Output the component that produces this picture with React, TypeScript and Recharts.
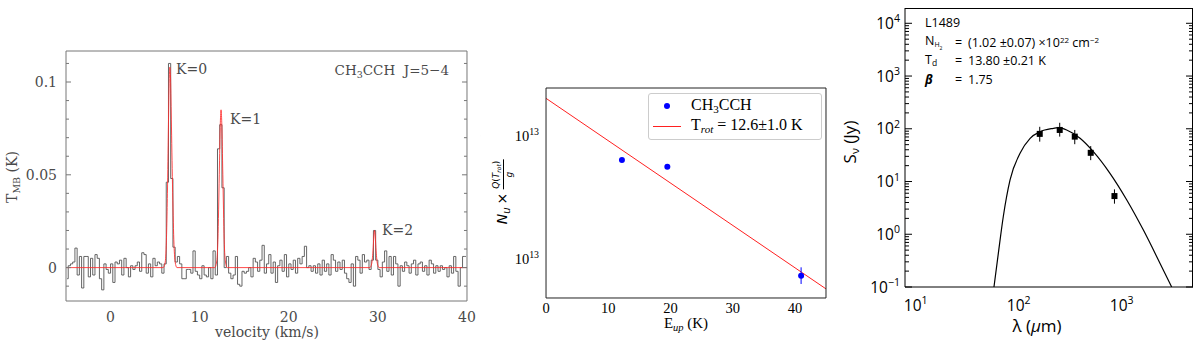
import React from "react";
import { ComposedChart, Line, Scatter, XAxis, YAxis, ErrorBar } from "recharts";

// ---------- left panel: CH3CCH J=5-4 spectrum ----------
const chanStart = -5; // km/s, left edge of first channel
const chanWidth = 0.25; // km/s
const tmb = [
  -0.006, 0.001, 0.002, 0.003, 0.0105, -0.004, 0.006, -0.011, 0.006, 0.006,
  -0.005, 0.005, -0.004, 0.007, 0.005, -0.006, -0.012, 0.002, -0.001, -0.003,
  0.002, -0.008, 0.003, 0.002, 0.004, -0.004, 0.005, 0.0, -0.005, 0.001,
  -0.001, 0.001, 0.003, -0.002, 0.008, 0.007, -0.003, 0.002, -0.005, 0.005,
  0.001, 0.003, 0.002, -0.003, 0.002, 0.046, 0.11, 0.048, 0.011, 0.003,
  0.006, 0.002, -0.006, -0.006, -0.001, -0.001, -0.003, 0.009, -0.002, -0.004,
  -0.006, 0.001, -0.004, -0.005, 0.0, -0.006, 0.009, -0.004, 0.064, 0.077,
  0.043, 0.0, 0.006, -0.003, -0.006, -0.004, 0.006, -0.009, -0.01, -0.002,
  -0.003, -0.002, 0.0, -0.005, 0.005, 0.003, -0.002, 0.004, 0.012, -0.003,
  0.002, 0.007, -0.003, 0.003, -0.008, 0.001, 0.004, -0.002, 0.007, -0.005,
  0.002, -0.001, 0.004, -0.003, 0.005, 0.002, 0.006, 0.0115, 0.0, 0.001,
  -0.002, 0.001, -0.003, 0.002, -0.004, 0.004, -0.002, 0.002, -0.004, 0.007,
  0.004, -0.002, 0.003, -0.001, 0.004, -0.003, -0.006, -0.008, 0.002, -0.01,
  0.006, 0.004, -0.003, 0.007, 0.003, 0.004, -0.001, 0.004, 0.02, 0.004,
  -0.001, -0.005, 0.003, 0.009, -0.002, 0.006, -0.004, 0.006, 0.002, -0.01,
  0.001, -0.002, 0.003, 0.001, -0.003, 0.002, 0.004, -0.004, 0.002, 0.003,
  -0.002, 0.001, -0.004, 0.004, 0.002, -0.003, 0.001, -0.002, 0.001, -0.001,
  0.0, -0.005, 0.001, -0.003, 0.006, -0.002, -0.01, 0.0, 0.006, 0.006,
];
// red fit
const fitVel = [
  -5, 5.9, 6.1, 6.25, 6.4, 6.5, 6.6, 6.65, 6.72, 6.82, 6.95, 7.1, 7.25, 7.45,
  11.7, 11.9, 12.05, 12.2, 12.32, 12.4, 12.48, 12.6, 12.75, 12.9, 13.1,
  29.1, 29.3, 29.45, 29.55, 29.62, 29.7, 29.8, 29.95, 30.15, 40,
];
const fitTmb = [
  0, 0, 0.002, 0.012, 0.045, 0.078, 0.104, 0.108, 0.104, 0.08, 0.045, 0.015, 0.003, 0,
  0, 0.003, 0.015, 0.05, 0.078, 0.085, 0.078, 0.05, 0.015, 0.003, 0,
  0, 0.002, 0.009, 0.017, 0.02, 0.017, 0.009, 0.002, 0, 0,
];
const velTicks = [0, 10, 20, 30, 40];
const velMinor = [-4, -2, 2, 4, 6, 8, 12, 14, 16, 18, 22, 24, 26, 28, 32, 34, 36, 38];
const tmbTicks = [0, 0.05, 0.1];
const tmbMinor = [-0.01, 0.01, 0.02, 0.03, 0.04, 0.06, 0.07, 0.08, 0.09, 0.11];

// ---------- middle panel: rotational diagram ----------
const eUp = [12.2, 19.5, 41.0];
const nColumn = [6.38e12, 5.64e12, 7.36e11];
const nErrLow = [0, 0, 1.06e11];
const nErrHigh = [0, 0, 1.24e11];
const fitEUp = [0, 45];
const fitN = [2.02e13, 5.75e11];
const eTicks = [0, 10, 20, 30, 40];
const nTicks = [1e12, 1e13];
const nMinor = [5e11, 6e11, 7e11, 8e11, 9e11, 2e12, 3e12, 4e12, 5e12, 6e12, 7e12, 8e12, 9e12, 2e13];

// ---------- right panel: SED ----------
const sedLambda = [160, 250, 350, 500, 850];
const sedFlux = [80, 95, 71, 35, 5.3];
const sedErrLow = [23, 24, 20, 9.6, 1.5];
const sedErrHigh = [29, 35, 24, 12, 1.8];
const greyLambda = [57.5, 63.4, 70.8, 82.4, 103, 129, 161, 217, 240, 292, 394, 530, 769, 1120, 1623, 2357, 3055];
const greyFlux = [0.1, 0.435, 2.15, 10.7, 34.3, 66, 88, 102, 105, 95, 66, 36.8, 14.3, 4.47, 1.2, 0.28, 0.1];
const lamTicks = [10, 100, 1000];
const lamMinor = [8, 9, 20, 30, 40, 50, 60, 70, 80, 90, 200, 300, 400, 500, 600, 700, 800, 900, 2000, 3000, 4000];
const fluxTicks = [0.1, 1, 10, 100, 1000, 10000];
const fluxMinor = [
  0.2, 0.3, 0.4, 0.5, 0.6, 0.7, 0.8, 0.9, 2, 3, 4, 5, 6, 7, 8, 9, 20, 30, 40, 50, 60, 70, 80, 90,
  200, 300, 400, 500, 600, 700, 800, 900, 2000, 3000, 4000, 5000, 6000, 7000, 8000, 9000,
];

const specData = tmb.map((t, i) => ({ x: chanStart + chanWidth * (i + 0.5), y: t }));
const fitData = fitVel.map((x, i) => ({ x, y: fitTmb[i] }));
const rotData = eUp.map((x, i) => ({ x, y: nColumn[i], err: [nErrLow[i], nErrHigh[i]] }));
const rotFit = fitEUp.map((x, i) => ({ x, y: fitN[i] }));
const sedData = sedLambda.map((x, i) => ({ x, y: sedFlux[i], err: [sedErrLow[i], sedErrHigh[i]] }));
const sedFit = greyLambda.map((x, i) => ({ x, y: greyFlux[i] }));

// recharts skips axes of zero size, so helper axes get a hairline size
const HAIR = 0.01;
// tick={false} drops the tick marks too, so helper axes get an empty label instead
const noLabel = () => <g />;

interface LabelSpec {
  side: "left" | "bottom";
  edge: number;
  gap: number;
  label: (v: number) => React.ReactNode;
  family: string;
  size: number;
  color: string;
}

// tick labels only; tick marks come from the helper axes
function labelTick(s: LabelSpec) {
  return (props: any) => {
    const v: number = props.payload.value;
    const c: number = props.payload.coordinate ?? (s.side === "left" ? props.y : props.x);
    const common = { fontFamily: s.family, fontSize: s.size, fill: s.color };
    if (s.side === "left") {
      return (
        <text x={s.edge - s.gap} y={c + s.size * 0.36} textAnchor="end" {...common}>
          {s.label(v)}
        </text>
      );
    }
    return (
      <text x={c} y={s.edge + s.gap} textAnchor="middle" {...common}>
        {s.label(v)}
      </text>
    );
  };
}

// the same tick repeated on the opposite frame edge, pointing inwards
function oppositeTick(vertical: boolean, edge: number, len: number, stroke: string) {
  return (props: any) => {
    const c: number = props.payload.coordinate ?? (vertical ? props.y : props.x);
    return vertical ? (
      <line x1={edge} x2={edge - len} y1={c} y2={c} stroke={stroke} strokeWidth={1} />
    ) : (
      <line x1={c} x2={c} y1={edge} y2={edge + len} stroke={stroke} strokeWidth={1} />
    );
  };
}

// hairline axis that only draws tick marks (mirror = pointing into the plot)
function markX(id: string, side: "top" | "bottom", domain: number[], ticks: number[], len: number, stroke: string, log?: boolean, inward = true, topEdge?: number) {
  return (
    <XAxis
      key={id}
      xAxisId={id}
      orientation={side}
      mirror={inward}
      type="number"
      scale={log ? "log" : "linear"}
      domain={domain}
      allowDataOverflow
      ticks={ticks}
      interval={0}
      height={HAIR}
      tick={topEdge === undefined ? noLabel : oppositeTick(false, topEdge, len, stroke)}
      tickSize={len}
      tickLine={{ stroke, strokeWidth: 1 }}
      axisLine={false}
    />
  );
}

function markY(id: string, side: "left" | "right", domain: number[], ticks: number[], len: number, stroke: string, log?: boolean, inward = true, rightEdge?: number) {
  return (
    <YAxis
      key={id}
      yAxisId={id}
      orientation={side}
      mirror={inward}
      type="number"
      scale={log ? "log" : "linear"}
      domain={domain}
      allowDataOverflow
      ticks={ticks}
      interval={0}
      width={HAIR}
      tick={rightEdge === undefined ? noLabel : oppositeTick(true, rightEdge, len, stroke)}
      tickSize={len}
      tickLine={{ stroke, strokeWidth: 1 }}
      axisLine={false}
    />
  );
}

const near = (a: number, b: number) => Math.abs(a - b) < 1e-6;

function decade(v: number, fs: number) {
  const e = Math.round(Math.log10(v));
  return [
    <tspan key="b">10</tspan>,
    <tspan key="e" dy={-0.42 * fs} fontSize={fs * 0.68}>
      {e < 0 ? "\u2212" + Math.abs(e) : String(e)}
    </tspan>,
  ];
}

function Txt(props: {
  x: number;
  y: number;
  anchor?: "start" | "middle" | "end";
  rotate?: boolean;
  style?: React.CSSProperties;
  children: React.ReactNode;
}) {
  const tx = props.anchor === "middle" || props.rotate ? "-50%" : props.anchor === "end" ? "-100%" : "0";
  return (
    <div
      style={{
        position: "absolute",
        left: props.x,
        top: props.y,
        transform: `translate(${tx}, -50%)${props.rotate ? " rotate(-90deg)" : ""}`,
        whiteSpace: "nowrap",
        lineHeight: 1,
        ...props.style,
      }}
    >
      {props.children}
    </div>
  );
}

// panel 1
const G1 = "#777";
const T1 = "#4a4a4a";
const F1 = "DejaVu Serif";
const p1 = { left: 66, right: 467, top: 51, bottom: 301 };
const velDom = [-5, 40];
const tmbDom = [-0.018, 0.1167];

// panel 2
const p2 = { left: 66, right: 346, top: 88, bottom: 298 };
const F2 = "Liberation Serif";
const nDom = [4.85e11, 2.45e13];

// panel 3
const p3 = { left: 85, right: 373, top: 8, bottom: 287 };
const F3 = "Open Sans";
const lamDom = [7.87, 4920];
const fluxDom = [0.1, 19500];

export default function App() {
  return (
    <div style={{ position: "absolute", left: 0, top: 0, width: 1200, height: 344, background: "#fff", overflow: "hidden" }}>
      {/* ---- spectrum ---- */}
      <div style={{ position: "absolute", left: 0, top: 0 }}>
        <ComposedChart width={480} height={344} margin={{ top: p1.top, right: 480 - p1.right, bottom: 0, left: 0 }}>
          <XAxis
            xAxisId="b"
            type="number"
            dataKey="x"
            domain={velDom}
            allowDataOverflow
            ticks={velTicks}
            interval={0}
            height={344 - p1.bottom}
            tickLine={false}
            axisLine={{ stroke: G1 }}
            tick={labelTick({ side: "bottom", edge: p1.bottom, gap: 21, label: (v) => String(v), family: F1, size: 14, color: T1 })}
          />
          <XAxis xAxisId="t" orientation="top" type="number" domain={velDom} allowDataOverflow ticks={velTicks} height={HAIR} tick={false} tickLine={false} axisLine={{ stroke: G1 }} />
          <YAxis
            yAxisId="l"
            type="number"
            domain={tmbDom}
            allowDataOverflow
            ticks={tmbTicks}
            interval={0}
            width={p1.left}
            tickLine={false}
            axisLine={{ stroke: G1 }}
            tick={labelTick({
              side: "left", edge: p1.left, gap: 9, label: (v) => (near(v, 0) ? "0" : String(v)), family: F1, size: 14, color: T1,
            })}
          />
          <YAxis yAxisId="r" orientation="right" type="number" domain={tmbDom} allowDataOverflow ticks={tmbTicks} width={HAIR} tick={false} tickLine={false} axisLine={{ stroke: G1 }} />
          {markX("bM", "bottom", velDom, velTicks, 5, G1)}
          {markX("bm", "bottom", velDom, velMinor, 3, G1)}
          {markX("tM", "top", velDom, velTicks, 5, G1)}
          {markX("tm", "top", velDom, velMinor, 3, G1)}
          {markY("lM", "left", tmbDom, tmbTicks, 5, G1)}
          {markY("lm", "left", tmbDom, tmbMinor, 3, G1)}
          {markY("rM", "right", tmbDom, tmbTicks, 5, G1)}
          {markY("rm", "right", tmbDom, tmbMinor, 3, G1)}
          <Line
            xAxisId="b"
            yAxisId="l"
            data={specData}
            dataKey="y"
            type="step"
            stroke="#555"
            strokeWidth={0.9}
            dot={false}
            activeDot={false}
            isAnimationActive={false}
          />
          <Line
            xAxisId="b"
            yAxisId="l"
            data={fitData}
            dataKey="y"
            type="monotone"
            stroke="#ff2a2a"
            strokeOpacity={0.85}
            strokeWidth={1}
            dot={false}
            activeDot={false}
            isAnimationActive={false}
          />
        </ComposedChart>
      </div>
      <Txt x={176} y={69} style={{ fontFamily: F1, fontSize: 14, color: T1 }}>K=0</Txt>
      <Txt x={230} y={119} style={{ fontFamily: F1, fontSize: 14, color: T1 }}>K=1</Txt>
      <Txt x={382} y={230} style={{ fontFamily: F1, fontSize: 14, color: T1 }}>K=2</Txt>
      <Txt x={449} y={72} anchor="end" style={{ fontFamily: F1, fontSize: 13.5, color: T1 }}>
        CH<sub style={{ fontSize: 9.5, verticalAlign: "-3px" }}>3</sub>CCH&nbsp; J=5−4
      </Txt>
      <Txt x={13} y={177} rotate style={{ fontFamily: F1, fontSize: 14, color: T1 }}>
        T<sub style={{ fontSize: 9.5, verticalAlign: "-3px" }}>MB</sub> (K)
      </Txt>
      <Txt x={267} y={332} anchor="middle" style={{ fontFamily: F1, fontSize: 14, color: T1 }}>
        velocity (km/s)
      </Txt>

      {/* ---- rotational diagram ---- */}
      <div style={{ position: "absolute", left: 480, top: 0 }}>
        <ComposedChart width={350} height={344} margin={{ top: p2.top, right: 350 - p2.right, bottom: 0, left: 0 }}>
          <XAxis
            xAxisId="b"
            type="number"
            dataKey="x"
            domain={[0, 45]}
            allowDataOverflow
            ticks={eTicks}
            interval={0}
            height={344 - p2.bottom}
            tickLine={false}
            axisLine={{ stroke: "#222" }}
            tick={labelTick({ side: "bottom", edge: p2.bottom, gap: 15, label: (v) => String(v), family: F2, size: 14.5, color: "#000" })}
          />
          <XAxis xAxisId="t" orientation="top" type="number" domain={[0, 45]} allowDataOverflow ticks={eTicks} height={HAIR} tick={false} tickLine={false} axisLine={{ stroke: "#222" }} />
          <YAxis
            yAxisId="l"
            type="number"
            scale="log"
            dataKey="y"
            domain={nDom}
            allowDataOverflow
            ticks={nTicks}
            interval={0}
            width={p2.left}
            tickLine={false}
            axisLine={{ stroke: "#222" }}
            tick={labelTick({ side: "left", edge: p2.left, gap: 7, label: () => decade(1e13, 14.5), family: F2, size: 14.5, color: "#000" })}
          />
          <YAxis yAxisId="r" orientation="right" type="number" scale="log" domain={nDom} allowDataOverflow ticks={nTicks} width={HAIR} tick={false} tickLine={false} axisLine={{ stroke: "#222" }} />
          {markX("bM", "bottom", [0, 45], eTicks, 4, "#222", false, false)}
          {markY("lM", "left", nDom, nTicks, 4, "#222", true, false)}
          {markY("lm", "left", nDom, nMinor, 2, "#222", true, false)}
          <Line
            xAxisId="b"
            yAxisId="l"
            data={rotFit}
            dataKey="y"
            type="linear"
            stroke="#ff2020"
            strokeWidth={1}
            dot={false}
            activeDot={false}
            isAnimationActive={false}
          />
          <Scatter
            xAxisId="b"
            yAxisId="l"
            data={rotData}
            dataKey="y"
            isAnimationActive={false}
            shape={(p: any) => <circle cx={p.cx} cy={p.cy} r={3} fill="#0000ff" />}
          >
            <ErrorBar dataKey="err" direction="y" width={0} stroke="#0000ff" strokeWidth={1} isAnimationActive={false} />
          </Scatter>
        </ComposedChart>
      </div>
      <div
        style={{
          position: "absolute", left: 648, top: 93, width: 174, height: 47,
          border: "1px solid #ccc", borderRadius: 3, background: "#fff", boxSizing: "border-box",
        }}
      />
      <div style={{ position: "absolute", left: 664, top: 103, width: 6, height: 6, borderRadius: 3, background: "#0000ff" }} />
      <div style={{ position: "absolute", left: 653, top: 126, width: 28, height: 1, background: "#ff2020" }} />
      <Txt x={691} y={106} style={{ fontFamily: F2, fontSize: 16 }}>
        CH<sub style={{ fontSize: 11, verticalAlign: "-3px" }}>3</sub>CCH
      </Txt>
      <Txt x={691} y={126} style={{ fontFamily: F2, fontSize: 16 }}>
        T<sub style={{ fontSize: 11, verticalAlign: "-3px", fontStyle: "italic" }}>rot</sub> = 12.6±1.0 K
      </Txt>
      <Txt x={503} y={192} rotate style={{ fontFamily: "DejaVu Sans", fontSize: 14 }}>
        <i>N</i>
        <sub style={{ fontSize: 10, verticalAlign: "-3px" }}>
          <i>u</i>
        </sub>
        <span style={{ margin: "0 3px" }}>×</span>
        <span
          style={{
            display: "inline-flex", flexDirection: "column", alignItems: "center",
            verticalAlign: "middle", fontSize: 9, lineHeight: 1,
          }}
        >
          <span style={{ borderBottom: "0.8px solid #000", padding: "0 1px 1px" }}>
            <i>Q</i>(<i>T</i>
            <sub style={{ fontSize: 6, verticalAlign: "-2px" }}>
              <i>rot</i>
            </sub>
            )
          </span>
          <span style={{ paddingTop: 1 }}>
            <i>g</i>
          </span>
        </span>
      </Txt>
      <Txt x={686} y={325} anchor="middle" style={{ fontFamily: F2, fontSize: 15 }}>
        E<sub style={{ fontSize: 10.5, verticalAlign: "-3px", fontStyle: "italic" }}>up</sub> (K)
      </Txt>

      {/* ---- SED ---- */}
      <div
        style={{
          position: "absolute", left: 820 + p3.left, top: p3.top, width: p3.right - p3.left, height: p3.bottom - p3.top,
          borderTop: "1px solid #000", borderRight: "1px solid #000", boxSizing: "border-box",
        }}
      />
      <div style={{ position: "absolute", left: 820, top: 0 }}>
        <ComposedChart width={380} height={344} margin={{ top: p3.top, right: 380 - p3.right, bottom: 0, left: 0 }}>
          <XAxis
            xAxisId="b"
            type="number"
            scale="log"
            dataKey="x"
            domain={lamDom}
            allowDataOverflow
            ticks={lamTicks}
            interval={0}
            height={344 - p3.bottom}
            tickLine={false}
            axisLine={{ stroke: "#000" }}
            tick={labelTick({ side: "bottom", edge: p3.bottom, gap: 24, label: (v) => decade(v, 15.5), family: F3, size: 15.5, color: "#000" })}
          />
          <YAxis
            yAxisId="l"
            type="number"
            scale="log"
            dataKey="y"
            domain={fluxDom}
            allowDataOverflow
            ticks={fluxTicks}
            interval={0}
            width={p3.left}
            tickLine={false}
            axisLine={{ stroke: "#000" }}
            tick={labelTick({ side: "left", edge: p3.left, gap: 5, label: (v) => decade(v, 15.5), family: F3, size: 15.5, color: "#000" })}
          />
          {markX("bM", "bottom", lamDom, lamTicks, 7, "#000", true, true, p3.top)}
          {markX("bm", "bottom", lamDom, lamMinor, 4, "#000", true, true, p3.top)}
          {markY("lM", "left", fluxDom, fluxTicks, 7, "#000", true, true, p3.right)}
          {markY("lm", "left", fluxDom, fluxMinor, 4, "#000", true, true, p3.right)}
          <Line
            xAxisId="b"
            yAxisId="l"
            data={sedFit}
            dataKey="y"
            type="monotone"
            stroke="#000"
            strokeWidth={1.2}
            dot={false}
            activeDot={false}
            isAnimationActive={false}
          />
          <Scatter
            xAxisId="b"
            yAxisId="l"
            data={sedData}
            dataKey="y"
            isAnimationActive={false}
            shape={(p: any) => <rect x={p.cx - 3} y={p.cy - 3} width={6} height={6} fill="#000" />}
          >
            <ErrorBar dataKey="err" direction="y" width={0} stroke="#000" strokeWidth={1} isAnimationActive={false} />
          </Scatter>
        </ComposedChart>
      </div>
      <Txt x={925} y={23} style={{ fontFamily: F3, fontSize: 12.5 }}>L1489</Txt>
      <Txt x={925} y={42.5} style={{ fontFamily: F3, fontSize: 12.5 }}>
        N<sub style={{ fontSize: 7, verticalAlign: "-2px" }}>H<sub style={{ fontSize: 5 }}>2</sub></sub>
      </Txt>
      <Txt x={925} y={61} style={{ fontFamily: F3, fontSize: 12.5 }}>
        T<sub style={{ fontSize: 8.5, verticalAlign: "-2px" }}>d</sub>
      </Txt>
      <Txt x={925} y={80} style={{ fontFamily: F3, fontSize: 12.5, fontWeight: 700, fontStyle: "italic" }}>β</Txt>
      <Txt x={955} y={42.5} style={{ fontFamily: F3, fontSize: 12.5 }}>=</Txt>
      <Txt x={955} y={61} style={{ fontFamily: F3, fontSize: 12.5 }}>=</Txt>
      <Txt x={955} y={80} style={{ fontFamily: F3, fontSize: 12.5 }}>=</Txt>
      <Txt x={968} y={42.5} style={{ fontFamily: F3, fontSize: 12.5 }}>
        (1.02 ±0.07) ×10<sup style={{ fontSize: 8, verticalAlign: "4px" }}>22</sup> cm<sup style={{ fontSize: 8, verticalAlign: "4px" }}>−2</sup>
      </Txt>
      <Txt x={968} y={61} style={{ fontFamily: F3, fontSize: 12.5 }}>13.80 ±0.21 K</Txt>
      <Txt x={968} y={80} style={{ fontFamily: F3, fontSize: 12.5 }}>1.75</Txt>
      <Txt x={850} y={142} rotate style={{ fontFamily: F3, fontSize: 17 }}>
        S<sub style={{ fontSize: 11, verticalAlign: "-3px" }}>ν</sub> (Jy)
      </Txt>
      <Txt x={1037} y={325} anchor="middle" style={{ fontFamily: F3, fontSize: 17 }}>
        λ (<i>μ</i>m)
      </Txt>
    </div>
  );
}
